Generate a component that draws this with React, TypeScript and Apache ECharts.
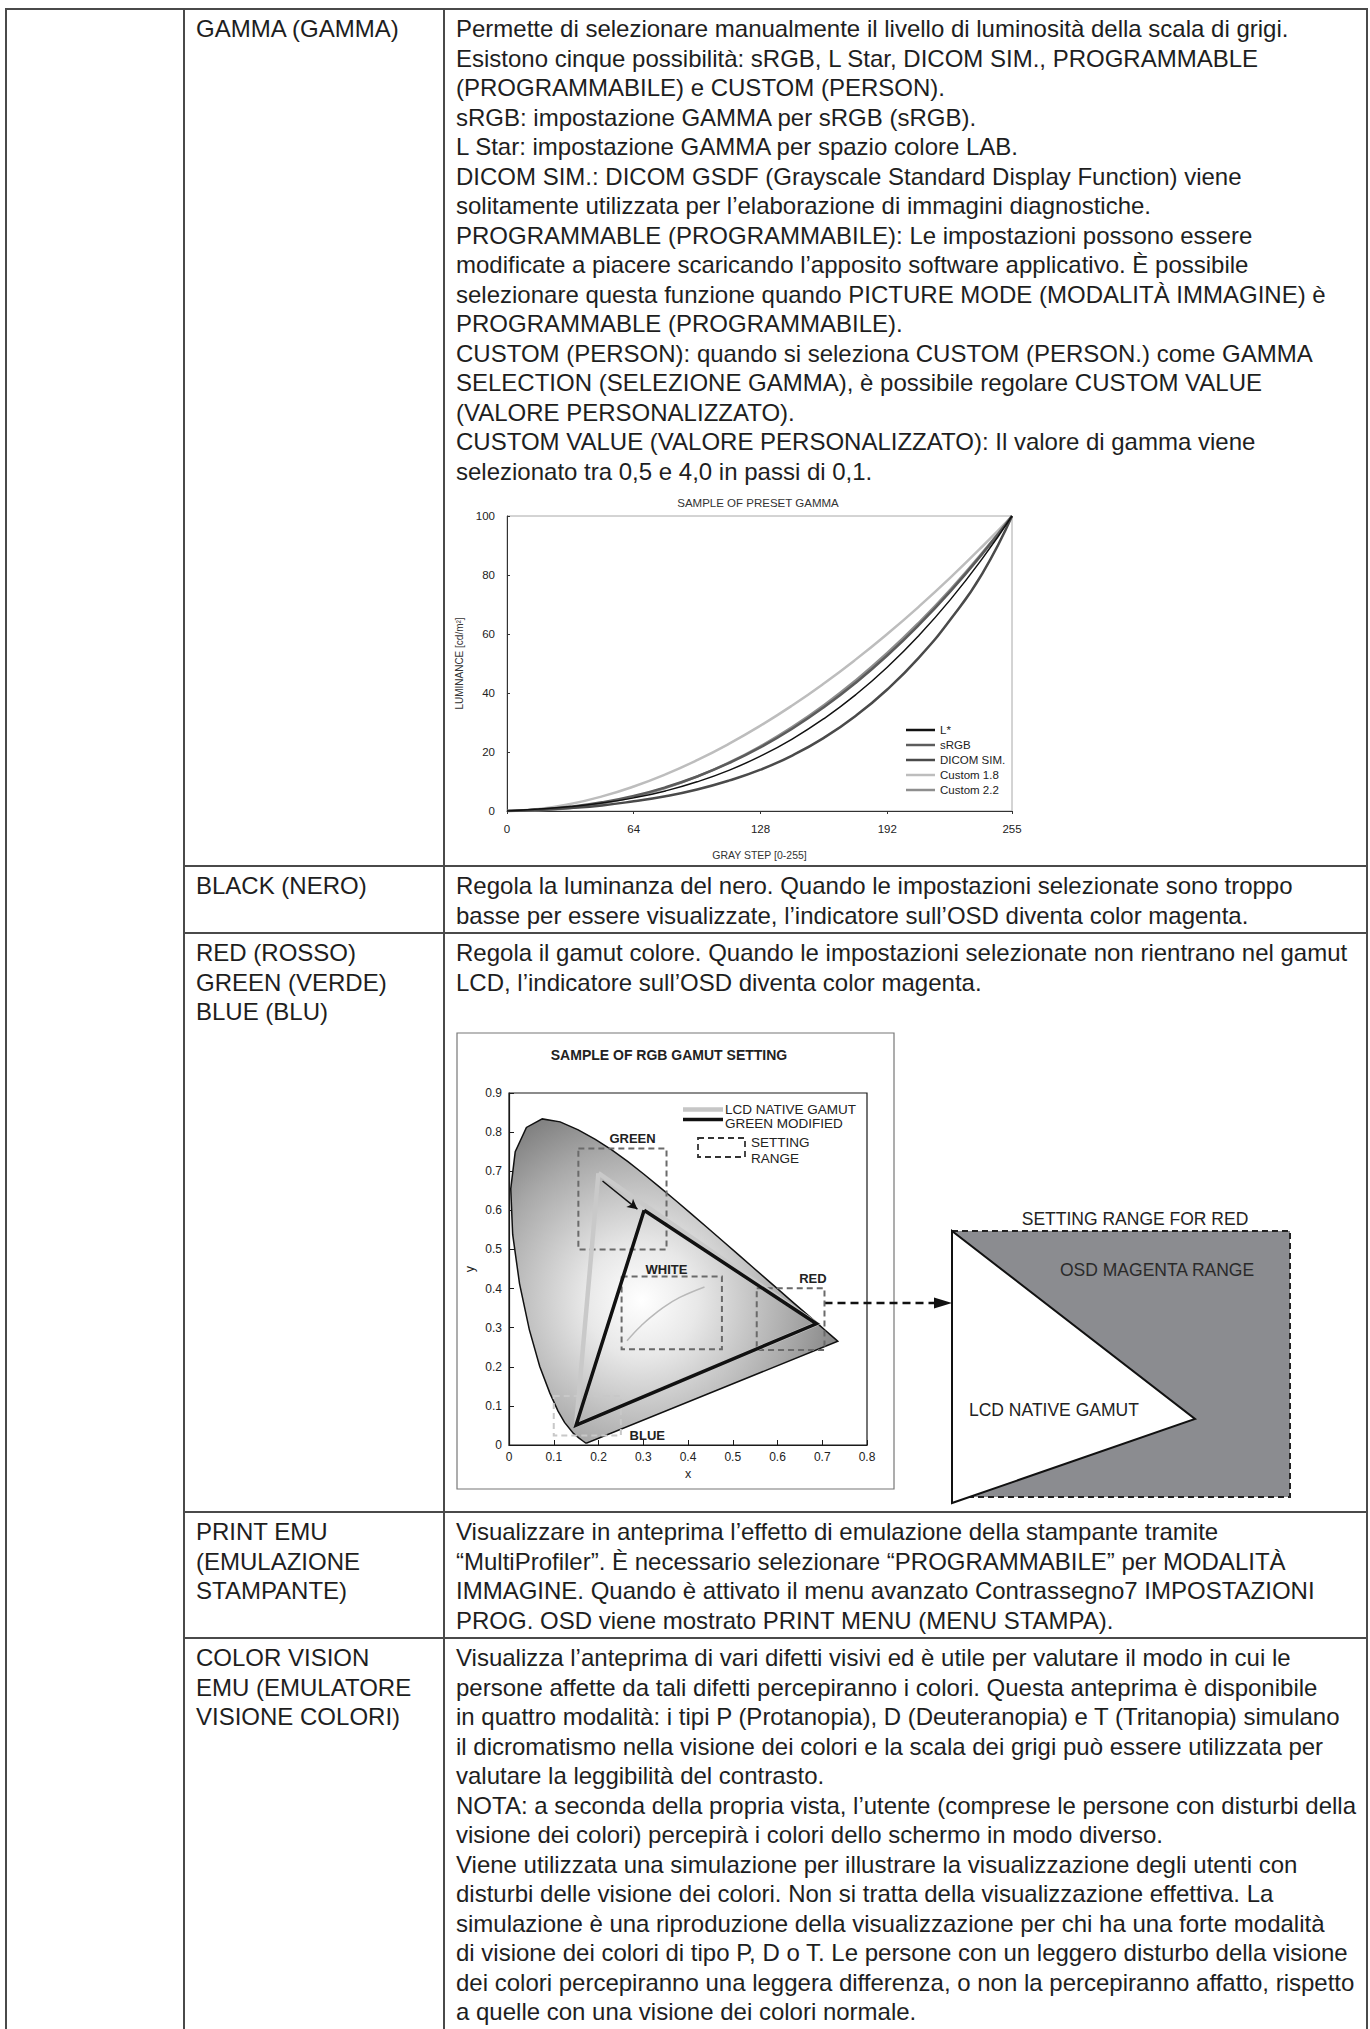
import React, { useEffect, useRef } from "react";
import * as echarts from "echarts";

const FONT = '"Liberation Sans", Arial, Helvetica, sans-serif';
const TEXT = "#1e1e1e";
const LINE = "#4a4a4a";

// ---------- Gamma chart data ----------
const grayStep = [0, 16, 32, 48, 64, 80, 96, 112, 128, 144, 160, 176, 192, 208, 224, 240, 255];
const grayTicks = [0, 64, 128, 192, 255];
const lStar = [0, 0.69, 1.49, 2.71, 4.45, 6.81, 9.89, 13.78, 18.59, 24.38, 31.29, 39.37, 48.74, 59.51, 71.74, 85.55, 100];
const sRGB = [0, 0.52, 1.44, 2.95, 5.13, 8.02, 11.7, 16.2, 21.59, 27.89, 35.16, 43.42, 52.71, 63.08, 74.54, 87.15, 100];
const dicom = [0, 0.4, 1.0, 1.9, 3.3, 5.0, 7.3, 10.3, 14.0, 18.8, 24.8, 32.2, 41.2, 52.0, 65.0, 80.5, 100];
const custom18 = [0, 0.68, 2.39, 4.95, 8.31, 12.41, 17.23, 22.74, 28.92, 35.75, 43.22, 51.31, 60.0, 69.3, 79.18, 89.66, 100];
const custom22 = [0, 0.23, 1.04, 2.54, 4.78, 7.81, 11.66, 16.36, 21.96, 28.45, 35.87, 44.24, 53.56, 63.88, 75.18, 87.52, 100];
const gammaNames = ["L*", "sRGB", "DICOM SIM.", "Custom 1.8", "Custom 2.2"];

// ---------- Gamut chart data ----------
const locusX = [0.1741, 0.1714, 0.1644, 0.1566, 0.144, 0.1241, 0.1096, 0.0913, 0.0687, 0.0454, 0.0235, 0.0082, 0.0039, 0.0139, 0.0389, 0.0743, 0.1142, 0.1547, 0.1929, 0.2296, 0.2658, 0.3016, 0.3373, 0.3731, 0.4087, 0.4441, 0.4788, 0.5125, 0.5448, 0.5752, 0.6029, 0.627, 0.6658, 0.6915, 0.7079, 0.719, 0.73, 0.7347];
const locusY = [0.005, 0.0051, 0.0109, 0.0177, 0.0297, 0.0578, 0.0868, 0.1327, 0.2007, 0.295, 0.4127, 0.5384, 0.6548, 0.7502, 0.812, 0.8338, 0.8262, 0.8059, 0.7816, 0.7543, 0.7243, 0.6923, 0.6589, 0.6245, 0.5896, 0.5547, 0.5202, 0.4866, 0.4544, 0.4242, 0.3965, 0.3725, 0.334, 0.3083, 0.292, 0.2809, 0.27, 0.2653];
const nativeX = [0.1998, 0.687, 0.15, 0.1998];
const nativeY = [0.695, 0.31, 0.051, 0.695];
const modifiedX = [0.302, 0.687, 0.15, 0.302];
const modifiedY = [0.6, 0.31, 0.051, 0.6];
const planckX = [0.2637, 0.2807, 0.2952, 0.3135, 0.3451, 0.3805, 0.4369];
const planckY = [0.2663, 0.2884, 0.3048, 0.3237, 0.3516, 0.3768, 0.4041];
const rangeNames = ["GREEN", "WHITE", "RED", "BLUE"];
const rangeX0 = [0.155, 0.2516, 0.5536, 0.1];
const rangeX1 = [0.352, 0.4758, 0.705, 0.25];
const rangeY0 = [0.5, 0.245, 0.243, 0.0245];
const rangeY1 = [0.758, 0.431, 0.401, 0.125];
const rangeLabelX = [0.276, 0.352, 0.679, 0.309];
const rangeLabelY = [0.783, 0.45, 0.426, 0.024];
const arrowFrom = [0.209, 0.675];
const arrowTo = [0.287, 0.603];

// ---------- Table text ----------
const gammaLines = [
  "Permette di selezionare manualmente il livello di luminosità della scala di grigi.",
  "Esistono cinque possibilità: sRGB, L Star, DICOM SIM., PROGRAMMABLE",
  "(PROGRAMMABILE) e CUSTOM (PERSON).",
  "sRGB: impostazione GAMMA per sRGB (sRGB).",
  "L Star: impostazione GAMMA per spazio colore LAB.",
  "DICOM SIM.: DICOM GSDF (Grayscale Standard Display Function) viene",
  "solitamente utilizzata per l’elaborazione di immagini diagnostiche.",
  "PROGRAMMABLE (PROGRAMMABILE): Le impostazioni possono essere",
  "modificate a piacere scaricando l’apposito software applicativo. È possibile",
  "selezionare questa funzione quando PICTURE MODE (MODALITÀ IMMAGINE) è",
  "PROGRAMMABLE (PROGRAMMABILE).",
  "CUSTOM (PERSON): quando si seleziona CUSTOM (PERSON.) come GAMMA",
  "SELECTION (SELEZIONE GAMMA), è possibile regolare CUSTOM VALUE",
  "(VALORE PERSONALIZZATO).",
  "CUSTOM VALUE (VALORE PERSONALIZZATO): Il valore di gamma viene",
  "selezionato tra 0,5 e 4,0 in passi di 0,1.",
];
const blackLines = [
  "Regola la luminanza del nero. Quando le impostazioni selezionate sono troppo",
  "basse per essere visualizzate, l’indicatore sull’OSD diventa color magenta.",
];
const rgbLines = [
  "Regola il gamut colore. Quando le impostazioni selezionate non rientrano nel gamut",
  "LCD, l’indicatore sull’OSD diventa color magenta.",
];
const printLines = [
  "Visualizzare in anteprima l’effetto di emulazione della stampante tramite",
  "“MultiProfiler”. È necessario selezionare “PROGRAMMABILE” per MODALITÀ",
  "IMMAGINE. Quando è attivato il menu avanzato Contrassegno7 IMPOSTAZIONI",
  "PROG. OSD viene mostrato PRINT MENU (MENU STAMPA).",
];
const visionLines = [
  "Visualizza l’anteprima di vari difetti visivi ed è utile per valutare il modo in cui le",
  "persone affette da tali difetti percepiranno i colori. Questa anteprima è disponibile",
  "in quattro modalità: i tipi P (Protanopia), D (Deuteranopia) e T (Tritanopia) simulano",
  "il dicromatismo nella visione dei colori e la scala dei grigi può essere utilizzata per",
  "valutare la leggibilità del contrasto.",
  "NOTA: a seconda della propria vista, l’utente (comprese le persone con disturbi della",
  "visione dei colori) percepirà i colori dello schermo in modo diverso.",
  "Viene utilizzata una simulazione per illustrare la visualizzazione degli utenti con",
  "disturbi delle visione dei colori. Non si tratta della visualizzazione effettiva. La",
  "simulazione è una riproduzione della visualizzazione per chi ha una forte modalità",
  "di visione dei colori di tipo P, D o T. Le persone con un leggero disturbo della visione",
  "dei colori percepiranno una leggera differenza, o non la percepiranno affatto, rispetto",
  "a quelle con una visione dei colori normale.",
];
const rowHeads = [
  ["GAMMA (GAMMA)"],
  ["BLACK (NERO)"],
  ["RED (ROSSO)", "GREEN (VERDE)", "BLUE (BLU)"],
  ["PRINT EMU", "(EMULAZIONE", "STAMPANTE)"],
  ["COLOR VISION", "EMU (EMULATORE", "VISIONE COLORI)"],
];
const rowBodies = [gammaLines, blackLines, rgbLines, printLines, visionLines];
const rowTops = [9, 866, 933, 1512, 1638];

function gammaOption(): any {
  const pairs = (ys: number[]) => grayStep.map((x, i) => [x, ys[i]]);
  const mk = (name: string, ys: number[], color: string, width: number, z: number) => ({
    name,
    type: "line",
    data: pairs(ys),
    smooth: 0.5,
    symbol: "none",
    z,
    lineStyle: { color, width },
    itemStyle: { color },
  });
  return {
    animation: false,
    textStyle: { fontFamily: FONT },
    graphic: [
      {
        type: "text",
        x: 312,
        y: 25,
        style: { text: "SAMPLE OF PRESET GAMMA", fontSize: 11.5, fontFamily: FONT, fill: "#333", align: "center", verticalAlign: "middle" },
      },
    ],
    grid: { left: 61, top: 38, width: 505, height: 295, show: true, borderColor: "#a8a8a8", borderWidth: 1 },
    legend: {
      orient: "vertical",
      left: 460,
      top: 246,
      icon: "rect",
      itemWidth: 29,
      itemHeight: 2.5,
      itemGap: 3,
      padding: 0,
      textStyle: { fontSize: 11.5, color: "#222", fontFamily: FONT },
      data: gammaNames,
    },
    xAxis: {
      type: "value",
      min: 0,
      max: 255,
      name: "GRAY STEP [0-255]",
      nameLocation: "middle",
      nameGap: 38,
      nameTextStyle: { fontSize: 10.5, color: "#333", fontFamily: FONT },
      axisLine: { show: true, lineStyle: { color: "#333", width: 1 } },
      axisTick: { show: true, length: 3, customValues: grayTicks, lineStyle: { color: "#333" } },
      axisLabel: { customValues: grayTicks, fontSize: 11.5, color: "#222", margin: 12, fontFamily: FONT },
      splitLine: { show: false },
    },
    yAxis: {
      type: "value",
      min: 0,
      max: 100,
      interval: 20,
      name: "LUMINANCE [cd/m²]",
      nameLocation: "middle",
      nameGap: 40,
      nameTextStyle: { fontSize: 10, color: "#333", fontFamily: FONT },
      axisLine: { show: true, lineStyle: { color: "#333", width: 1 } },
      axisTick: { show: true, inside: true, length: 3, lineStyle: { color: "#333" } },
      axisLabel: { fontSize: 11.5, color: "#222", margin: 12, fontFamily: FONT },
      splitLine: { show: false },
    },
    series: [
      mk("Custom 1.8", custom18, "#bdbdbd", 2.5, 2),
      mk("Custom 2.2", custom22, "#8e8e8e", 2.5, 3),
      mk("sRGB", sRGB, "#5c5c5c", 2.5, 4),
      mk("DICOM SIM.", dicom, "#4a4a4a", 2.5, 5),
      mk("L*", lStar, "#111111", 1.5, 6),
    ],
  };
}

function gamutOption(): any {
  const fill = new echarts.graphic.RadialGradient(0.4, 0.56, 0.78, [
    { offset: 0, color: "#ffffff" },
    { offset: 0.22, color: "#e8e8e8" },
    { offset: 0.6, color: "#a9a9a9" },
    { offset: 1, color: "#5e5e5e" },
  ]);
  const txt = (text: string, x: number, y: number, size: number, extra: any = {}) => ({
    type: "text",
    x,
    y,
    style: { text, fontSize: size, fontFamily: FONT, fill: "#222", verticalAlign: "middle", align: "left", ...extra },
  });
  return {
    animation: false,
    textStyle: { fontFamily: FONT },
    grid: { left: 63, top: 93, width: 358, height: 352, show: true, borderColor: "#1a1a1a", borderWidth: 1.2 },
    xAxis: {
      type: "value",
      min: 0,
      max: 0.8,
      interval: 0.1,
      name: "x",
      nameLocation: "middle",
      nameGap: 21,
      nameTextStyle: { fontSize: 12.5, color: "#222", fontFamily: FONT },
      axisLine: { show: true, lineStyle: { color: "#1a1a1a", width: 1.2 } },
      axisTick: { show: true, inside: true, length: 5, lineStyle: { color: "#1a1a1a" } },
      axisLabel: { fontSize: 12, color: "#222", margin: 6, fontFamily: FONT },
      splitLine: { show: false },
    },
    yAxis: {
      type: "value",
      min: 0,
      max: 0.9,
      interval: 0.1,
      name: "y",
      nameLocation: "middle",
      nameGap: 33,
      nameTextStyle: { fontSize: 12.5, color: "#222", fontFamily: FONT },
      axisLine: { show: true, lineStyle: { color: "#1a1a1a", width: 1.2 } },
      axisTick: { show: true, inside: true, length: 5, lineStyle: { color: "#1a1a1a" } },
      axisLabel: { fontSize: 12, color: "#222", margin: 7, fontFamily: FONT },
      splitLine: { show: false },
    },
    graphic: [
      { type: "rect", z: -1, shape: { x: 11, y: 33, width: 437, height: 456 }, style: { fill: "#fff", stroke: "#777", lineWidth: 1.2 } },
      txt("SAMPLE OF RGB GAMUT SETTING", 223, 55, 14, { fontWeight: "bold", align: "center" }),
      // legend
      { type: "line", shape: { x1: 237, y1: 109.5, x2: 277, y2: 109.5 }, style: { stroke: "#c6c6c6", lineWidth: 4.5 } },
      txt("LCD NATIVE GAMUT", 279, 109.5, 13.5),
      { type: "line", shape: { x1: 237, y1: 119.5, x2: 277, y2: 119.5 }, style: { stroke: "#111", lineWidth: 3.5 } },
      txt("GREEN MODIFIED", 279, 123.5, 13.5),
      { type: "rect", shape: { x: 252, y: 138, width: 47, height: 19 }, style: { fill: "none", stroke: "#333", lineWidth: 1.8, lineDash: [6, 4] } },
      txt("SETTING", 305, 142.7, 13.5),
      txt("RANGE", 305, 158.3, 13.5),
      // setting range for red schematic
      { type: "rect", shape: { x: 506, y: 231, width: 338, height: 266 }, style: { fill: "#8b8c90", stroke: "none" } },
      { type: "rect", shape: { x: 506, y: 231, width: 338, height: 266 }, style: { fill: "none", stroke: "#222", lineWidth: 2, lineDash: [6, 4] } },
      { type: "polygon", shape: { points: [[506, 231], [749, 419], [506, 503]] }, style: { fill: "#fff", stroke: "#111", lineWidth: 2 } },
      txt("SETTING RANGE FOR RED", 689, 219, 17.5, { align: "center" }),
      txt("OSD MAGENTA RANGE", 614, 270, 17.5, { fill: "#2a2a2a" }),
      txt("LCD NATIVE GAMUT", 523, 410, 17.5),
      { type: "line", shape: { x1: 378.5, y1: 303, x2: 490, y2: 303 }, style: { stroke: "#111", lineWidth: 2.5, lineDash: [8, 5] } },
      { type: "polygon", shape: { points: [[488, 297.5], [506, 303], [488, 308.5]] }, style: { fill: "#111" } },
    ],
    series: [
      {
        type: "custom",
        coordinateSystem: "cartesian2d",
        silent: true,
        z: 1,
        data: [[locusX[0], locusY[0]]],
        renderItem: (_p: any, api: any) => ({
          type: "polygon",
          shape: { points: locusX.map((x, i) => api.coord([x, locusY[i]])) },
          style: { fill, stroke: "#111", lineWidth: 1.5 },
        }),
      },
      {
        type: "line",
        data: planckX.map((x, i) => [x, planckY[i]]),
        smooth: 0.4,
        symbol: "none",
        z: 2,
        lineStyle: { color: "#b8b8b8", width: 1.5 },
      },
      {
        type: "custom",
        coordinateSystem: "cartesian2d",
        silent: true,
        z: 3,
        data: rangeX0.map((x, i) => [x, rangeY0[i], rangeX1[i], rangeY1[i]]),
        renderItem: (p: any, api: any) => {
          const a = api.coord([api.value(0), api.value(3)]);
          const b = api.coord([api.value(2), api.value(1)]);
          return {
            type: "rect",
            shape: { x: a[0], y: a[1], width: b[0] - a[0], height: b[1] - a[1] },
            style: { fill: "none", stroke: p.dataIndex === 3 ? "#c8c8c8" : "#6a6a6a", lineWidth: 2, lineDash: [6, 4] },
          };
        },
      },
      {
        type: "line",
        data: nativeX.map((x, i) => [x, nativeY[i]]),
        symbol: "none",
        z: 4,
        lineStyle: { color: "#c9c9c9", width: 4.5, join: "miter" },
      },
      {
        type: "line",
        data: modifiedX.map((x, i) => [x, modifiedY[i]]),
        symbol: "none",
        z: 5,
        lineStyle: { color: "#111", width: 3.5, join: "miter" },
        markLine: {
          silent: true,
          symbol: ["none", "arrow"],
          symbolSize: [8, 10],
          label: { show: false },
          lineStyle: { color: "#111", width: 1.5, type: "solid" },
          data: [[{ coord: arrowFrom }, { coord: arrowTo }]],
        },
      },
      {
        type: "custom",
        coordinateSystem: "cartesian2d",
        silent: true,
        z: 6,
        data: rangeLabelX.map((x, i) => [x, rangeLabelY[i]]),
        renderItem: (p: any, api: any) => {
          const c = api.coord([api.value(0), api.value(1)]);
          return {
            type: "text",
            x: c[0],
            y: c[1],
            style: { text: rangeNames[p.dataIndex], fontSize: 13, fontWeight: "bold", fontFamily: FONT, fill: "#222", align: "center", verticalAlign: "middle" },
          };
        },
      },
    ],
  };
}

function Chart({ left, top, width, height, option }: { left: number; top: number; width: number; height: number; option: () => any }) {
  const ref = useRef<HTMLDivElement>(null);
  useEffect(() => {
    if (!ref.current) return;
    const chart = echarts.init(ref.current, undefined, { renderer: "svg" });
    chart.setOption(option());
    return () => chart.dispose();
  }, []);
  return <div ref={ref} style={{ position: "absolute", left, top, width, height }} />;
}

const LH = 29.5;

function Lines({ left, top, lines }: { left: number; top: number; lines: string[] }) {
  return (
    <div style={{ position: "absolute", left, top, fontFamily: FONT, fontSize: 24, lineHeight: LH + "px", color: TEXT, whiteSpace: "pre" }}>
      {lines.map((l, i) => (
        <div key={i}>{l}</div>
      ))}
    </div>
  );
}

function Rule({ x, y, w, h }: { x: number; y: number; w: number; h: number }) {
  return <div style={{ position: "absolute", left: x, top: y, width: w, height: h, background: LINE }} />;
}

export default function App() {
  return (
    <div style={{ position: "absolute", left: 0, top: 0, width: 1370, height: 2029, overflow: "hidden", background: "#fff" }}>
      <Chart left={446} top={478} width={918} height={388} option={gammaOption} />
      <Chart left={446} top={1000} width={918} height={512} option={gamutOption} />
      {rowHeads.map((h, i) => (
        <Lines key={"h" + i} left={196} top={rowTops[i] + 5.25} lines={h} />
      ))}
      {rowBodies.map((b, i) => (
        <Lines key={"b" + i} left={456} top={rowTops[i] + 5.25} lines={b} />
      ))}
      <Rule x={5} y={8} w={1363} h={2} />
      <Rule x={5} y={8} w={2} h={2040} />
      <Rule x={1366} y={8} w={2} h={2040} />
      <Rule x={183} y={8} w={2} h={2040} />
      <Rule x={443} y={8} w={2} h={2040} />
      {rowTops.slice(1).map((y, i) => (
        <Rule key={"r" + i} x={183} y={y - 1} w={1185} h={2} />
      ))}
    </div>
  );
}
